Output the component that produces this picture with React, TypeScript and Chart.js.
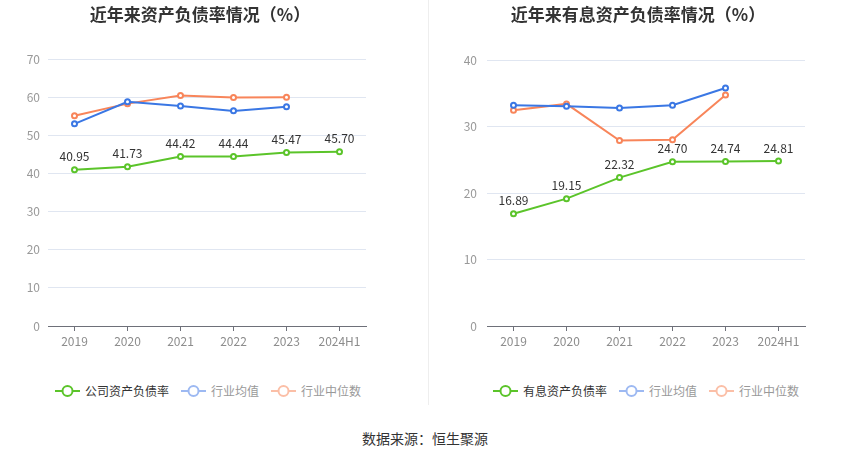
import { useEffect, useRef } from 'react';
import { Chart, registerables } from 'chart.js';

Chart.register(...registerables);

// categories
const years = ['2019', '2020', '2021', '2022', '2023', '2024H1'];

// left chart: asset-liability ratio (%)
const debtRatio = [40.95, 41.73, 44.42, 44.44, 45.47, 45.7];
const debtIndustryAvg = [53.0, 58.8, 57.7, 56.4, 57.5, null];
const debtIndustryMedian = [55.1, 58.3, 60.4, 59.9, 60.0, null];

// right chart: interest-bearing asset-liability ratio (%)
const interestRatio = [16.89, 19.15, 22.32, 24.7, 24.74, 24.81];
const interestIndustryAvg = [33.2, 33.05, 32.8, 33.2, 35.8, null];
const interestIndustryMedian = [32.45, 33.4, 27.9, 28.0, 34.75, null];

const GREEN = '#5bc42a';
const BLUE = '#3a77e4';
const ORANGE = '#f8855a';
const BLUE_LIGHT = '#9db9f2';
const ORANGE_LIGHT = '#fbbfa7';
const FONT = '"Noto Sans CJK SC", "Noto Sans", sans-serif';

interface Series {
  label: string;
  data: (number | null)[];
  color: string;
}

interface PanelProps {
  series: Series[];
  yMax: number;
  plotLeft: number;
  plotRight: number;
  plotTop: number;
  labelPad: number;
}

// draws value labels above the first dataset's points
const valueLabels = {
  id: 'valueLabels',
  afterDatasetsDraw(chart: Chart) {
    const ctx = chart.ctx;
    const meta = chart.getDatasetMeta(0);
    const data = chart.data.datasets[0].data as number[];
    ctx.save();
    ctx.font = `12px ${FONT}`;
    ctx.fillStyle = '#333';
    ctx.textAlign = 'center';
    ctx.textBaseline = 'bottom';
    meta.data.forEach((pt, i) => {
      ctx.fillText(data[i].toFixed(2), pt.x, pt.y - 7);
    });
    ctx.restore();
  },
};

function LinePanel({ series, yMax, plotLeft, plotRight, plotTop, labelPad }: PanelProps) {
  const chartRef = useRef<HTMLCanvasElement>(null);

  useEffect(() => {
    if (!chartRef.current) return;
    const chart = new Chart(chartRef.current, {
      type: 'line',
      data: {
        labels: years,
        datasets: series.map(s => ({
          label: s.label,
          data: s.data,
          borderColor: s.color,
          backgroundColor: '#fff',
          pointBackgroundColor: '#fff',
          pointBorderColor: s.color,
          pointBorderWidth: 2,
          pointRadius: 2.5,
          borderWidth: 2,
          tension: 0,
        })),
      },
      options: {
        animation: false,
        responsive: true,
        maintainAspectRatio: false,
        layout: { padding: { top: plotTop, left: 0, right: 425 - plotRight, bottom: 0 } },
        plugins: {
          legend: { display: false },
          tooltip: { enabled: false },
        },
        scales: {
          x: {
            offset: true,
            afterFit: scale => {
              scale.height = 24;
            },
            grid: {
              offset: false,
              drawOnChartArea: false,
              drawTicks: true,
              tickLength: 5,
              color: '#6e7079',
            },
            border: { color: '#6e7079', width: 1 },
            ticks: {
              color: '#8c8c8c',
              padding: 3,
              autoSkip: false,
              maxRotation: 0,
              font: { size: 12, family: FONT },
            },
          },
          y: {
            min: 0,
            max: yMax,
            afterFit: scale => {
              scale.width = plotLeft;
            },
            grid: { color: '#e0e6f1', drawTicks: false },
            border: { display: false },
            ticks: {
              stepSize: 10,
              color: '#999',
              padding: labelPad,
              font: { size: 12, family: FONT },
            },
          },
        },
      },
      plugins: [valueLabels],
    });
    return () => chart.destroy();
  }, [series, yMax, plotLeft, plotRight, plotTop, labelPad]);

  return (
    <div style={{ position: 'relative', width: 425, height: 350 }}>
      <canvas ref={chartRef} />
    </div>
  );
}

function LegendItem({ label, color, textColor }: { label: string; color: string; textColor: string }) {
  return (
    <span style={{ display: 'inline-flex', alignItems: 'center', marginRight: 12 }}>
      <svg width={25} height={14} style={{ marginRight: 5 }}>
        <line x1={0} y1={7} x2={25} y2={7} stroke={color} strokeWidth={2} />
        <circle cx={12.5} cy={7} r={5} fill="#fff" stroke={color} strokeWidth={2} />
      </svg>
      <span style={{ color: textColor, fontSize: 12 }}>{label}</span>
    </span>
  );
}

const leftSeries: Series[] = [
  { label: '公司资产负债率', data: debtRatio, color: GREEN },
  { label: '行业均值', data: debtIndustryAvg, color: BLUE },
  { label: '行业中位数', data: debtIndustryMedian, color: ORANGE },
];

const rightSeries: Series[] = [
  { label: '有息资产负债率', data: interestRatio, color: GREEN },
  { label: '行业均值', data: interestIndustryAvg, color: BLUE },
  { label: '行业中位数', data: interestIndustryMedian, color: ORANGE },
];

const titleStyle: React.CSSProperties = {
  position: 'absolute',
  top: 3,
  fontSize: 17,
  fontWeight: 'bold',
  color: '#333',
  whiteSpace: 'nowrap',
  transform: 'translateX(-50%)',
  lineHeight: '22px',
};

export default function App() {
  return (
    <div
      style={{
        position: 'absolute',
        left: 0,
        top: 0,
        width: 850,
        height: 459,
        background: '#fff',
        fontFamily: FONT,
        overflow: 'hidden',
      }}
    >
      <div style={{ position: 'absolute', left: 0, top: 0 }}>
        <LinePanel series={leftSeries} yMax={70} plotLeft={48} plotRight={366} plotTop={59} labelPad={8} />
      </div>
      <div style={{ position: 'absolute', left: 425, top: 0 }}>
        <LinePanel series={rightSeries} yMax={40} plotLeft={62} plotRight={380} plotTop={60} labelPad={10} />
      </div>

      <div style={{ ...titleStyle, left: 200 }}>近年来资产负债率情况（%）</div>
      <div style={{ ...titleStyle, left: 638 }}>近年来有息资产负债率情况（%）</div>

      <div style={{ position: 'absolute', left: 428, top: 0, width: 1, height: 405, background: '#eeeeee' }} />

      <div style={{ position: 'absolute', left: 55, top: 381, display: 'flex', lineHeight: '20px' }}>
        <LegendItem label={leftSeries[0].label} color={GREEN} textColor="#333" />
        <LegendItem label={leftSeries[1].label} color={BLUE_LIGHT} textColor="#999" />
        <LegendItem label={leftSeries[2].label} color={ORANGE_LIGHT} textColor="#999" />
      </div>
      <div style={{ position: 'absolute', left: 493, top: 381, display: 'flex', lineHeight: '20px' }}>
        <LegendItem label={rightSeries[0].label} color={GREEN} textColor="#333" />
        <LegendItem label={rightSeries[1].label} color={BLUE_LIGHT} textColor="#999" />
        <LegendItem label={rightSeries[2].label} color={ORANGE_LIGHT} textColor="#999" />
      </div>

      <div
        style={{
          position: 'absolute',
          left: 0,
          width: 850,
          top: 428,
          textAlign: 'center',
          fontSize: 14,
          color: '#333',
          lineHeight: '20px',
        }}
      >
        数据来源：恒生聚源
      </div>
    </div>
  );
}
